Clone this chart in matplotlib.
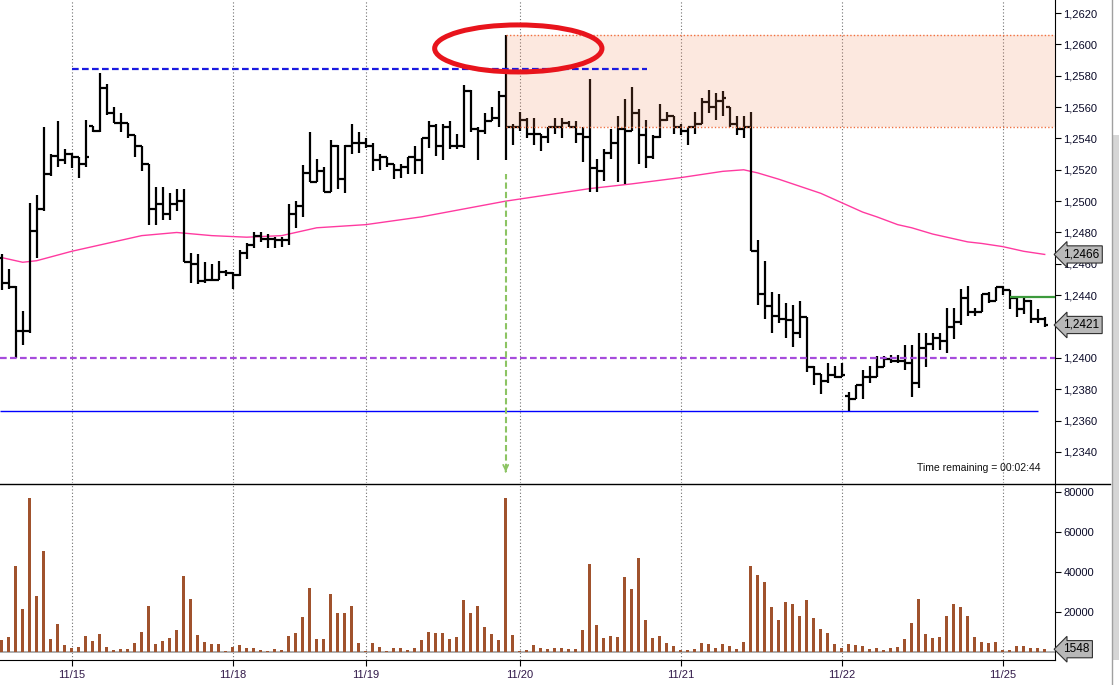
import numpy as np
import matplotlib
matplotlib.use('Agg')
import matplotlib.pyplot as plt
import matplotlib.transforms as mtransforms
from matplotlib.patches import Arc, Rectangle
from matplotlib.lines import Line2D
from matplotlib.ticker import FuncFormatter

plt.rcParams['font.family'] = ['Liberation Sans', 'DejaVu Sans']

# hourly OHLC bars, 11/14 .. 11/25
opens = [1.2464, 1.2448, 1.2445, 1.2417, 1.2417, 1.2481, 1.2495, 1.2517, 1.2529, 1.2526,
         1.2530, 1.2528, 1.2524, 1.2548, 1.2545, 1.2572, 1.2556, 1.2550, 1.2550, 1.2542,
         1.2535, 1.2524, 1.2495, 1.2498, 1.2492, 1.2498, 1.2500, 1.2461, 1.2460, 1.2449,
         1.2450, 1.2450, 1.2455, 1.2454, 1.2453, 1.2467, 1.2472, 1.2478, 1.2476, 1.2476,
         1.2475, 1.2475, 1.2492, 1.2497, 1.2518, 1.2512, 1.2519, 1.2506, 1.2535, 1.2514,
         1.2535, 1.2537, 1.2537, 1.2535, 1.2526, 1.2528, 1.2524, 1.2520, 1.2522, 1.2528,
         1.2526, 1.2540, 1.2548, 1.2535, 1.2547, 1.2535, 1.2535, 1.2570, 1.2546, 1.2545,
         1.2551, 1.2553, 1.2567, 1.2547, 1.2547, 1.2552, 1.2543, 1.2543, 1.2541, 1.2547,
         1.2547, 1.2550, 1.2547, 1.2543, 1.2541, 1.2521, 1.2519, 1.2531, 1.2537, 1.2546,
         1.2545, 1.2556, 1.2542, 1.2528, 1.2541, 1.2552, 1.2554, 1.2547, 1.2545, 1.2547,
         1.2549, 1.2563, 1.2560, 1.2564, 1.2560, 1.2549, 1.2546, 1.2547, 1.2468, 1.2441,
         1.2433, 1.2427, 1.2425, 1.2424, 1.2416, 1.2426, 1.2394, 1.2390, 1.2385, 1.2389,
         1.2388, 1.2376, 1.2374, 1.2383, 1.2388, 1.2388, 1.2394, 1.2399, 1.2398, 1.2398,
         1.2397, 1.2384, 1.2406, 1.2409, 1.2413, 1.2411, 1.2420, 1.2423, 1.2438, 1.2429,
         1.2429, 1.2441, 1.2436, 1.2445, 1.2443, 1.2438, 1.2431, 1.2436, 1.2425, 1.2425]
highs = [1.2466, 1.2457, 1.2446, 1.2430, 1.2499, 1.2504, 1.2547, 1.2530, 1.2551, 1.2533,
         1.2531, 1.2528, 1.2552, 1.2548, 1.2582, 1.2575, 1.2560, 1.2556, 1.2550, 1.2542,
         1.2535, 1.2524, 1.2509, 1.2509, 1.2505, 1.2508, 1.2508, 1.2467, 1.2466, 1.2461,
         1.2460, 1.2462, 1.2456, 1.2455, 1.2469, 1.2473, 1.2480, 1.2480, 1.2479, 1.2477,
         1.2477, 1.2498, 1.2500, 1.2523, 1.2544, 1.2527, 1.2522, 1.2539, 1.2536, 1.2536,
         1.2549, 1.2544, 1.2540, 1.2537, 1.2530, 1.2528, 1.2524, 1.2524, 1.2528, 1.2535,
         1.2540, 1.2551, 1.2549, 1.2549, 1.2551, 1.2543, 1.2574, 1.2571, 1.2547, 1.2556,
         1.2560, 1.2570, 1.2606, 1.2549, 1.2557, 1.2553, 1.2553, 1.2543, 1.2547, 1.2553,
         1.2553, 1.2551, 1.2551, 1.2547, 1.2578, 1.2527, 1.2533, 1.2546, 1.2554, 1.2565,
         1.2573, 1.2559, 1.2552, 1.2542, 1.2562, 1.2557, 1.2554, 1.2549, 1.2547, 1.2557,
         1.2566, 1.2571, 1.2569, 1.2570, 1.2560, 1.2554, 1.2554, 1.2557, 1.2475, 1.2462,
         1.2442, 1.2441, 1.2435, 1.2434, 1.2436, 1.2426, 1.2395, 1.2390, 1.2397, 1.2395,
         1.2397, 1.2378, 1.2383, 1.2392, 1.2395, 1.2401, 1.2401, 1.2402, 1.2402, 1.2408,
         1.2408, 1.2416, 1.2416, 1.2416, 1.2416, 1.2432, 1.2432, 1.2444, 1.2446, 1.2432,
         1.2441, 1.2442, 1.2445, 1.2446, 1.2443, 1.2438, 1.2438, 1.2437, 1.2431, 1.2426]
lows = [1.2443, 1.2444, 1.2400, 1.2408, 1.2416, 1.2464, 1.2494, 1.2516, 1.2522, 1.2524,
        1.2521, 1.2515, 1.2522, 1.2544, 1.2544, 1.2555, 1.2550, 1.2544, 1.2540, 1.2528,
        1.2519, 1.2485, 1.2485, 1.2488, 1.2488, 1.2494, 1.2461, 1.2448, 1.2447, 1.2448,
        1.2449, 1.2450, 1.2452, 1.2444, 1.2452, 1.2463, 1.2470, 1.2474, 1.2470, 1.2470,
        1.2471, 1.2472, 1.2483, 1.2490, 1.2512, 1.2512, 1.2506, 1.2506, 1.2508, 1.2505,
        1.2530, 1.2531, 1.2534, 1.2519, 1.2520, 1.2522, 1.2514, 1.2515, 1.2517, 1.2517,
        1.2517, 1.2534, 1.2529, 1.2526, 1.2533, 1.2533, 1.2534, 1.2544, 1.2526, 1.2543,
        1.2551, 1.2547, 1.2526, 1.2536, 1.2545, 1.2540, 1.2536, 1.2532, 1.2537, 1.2543,
        1.2540, 1.2547, 1.2537, 1.2525, 1.2506, 1.2506, 1.2513, 1.2527, 1.2512, 1.2511,
        1.2545, 1.2524, 1.2521, 1.2527, 1.2540, 1.2551, 1.2543, 1.2542, 1.2536, 1.2543,
        1.2549, 1.2556, 1.2552, 1.2554, 1.2547, 1.2542, 1.2540, 1.2468, 1.2434, 1.2425,
        1.2416, 1.2422, 1.2413, 1.2407, 1.2413, 1.2391, 1.2383, 1.2377, 1.2384, 1.2387,
        1.2388, 1.2366, 1.2374, 1.2374, 1.2384, 1.2388, 1.2394, 1.2397, 1.2397, 1.2392,
        1.2375, 1.2381, 1.2394, 1.2405, 1.2405, 1.2403, 1.2412, 1.2421, 1.2427, 1.2427,
        1.2429, 1.2435, 1.2436, 1.2440, 1.2431, 1.2426, 1.2428, 1.2422, 1.2422, 1.2420]
closes = [1.2448, 1.2445, 1.2417, 1.2417, 1.2481, 1.2495, 1.2517, 1.2529, 1.2526, 1.2530,
          1.2528, 1.2524, 1.2528, 1.2545, 1.2572, 1.2556, 1.2550, 1.2550, 1.2542, 1.2535,
          1.2524, 1.2495, 1.2498, 1.2492, 1.2498, 1.2500, 1.2461, 1.2460, 1.2449, 1.2450,
          1.2450, 1.2455, 1.2454, 1.2453, 1.2467, 1.2472, 1.2478, 1.2476, 1.2476, 1.2475,
          1.2475, 1.2492, 1.2497, 1.2518, 1.2512, 1.2519, 1.2506, 1.2535, 1.2514, 1.2535,
          1.2537, 1.2537, 1.2535, 1.2526, 1.2528, 1.2524, 1.2520, 1.2522, 1.2528, 1.2526,
          1.2540, 1.2548, 1.2535, 1.2547, 1.2535, 1.2535, 1.2570, 1.2546, 1.2545, 1.2551,
          1.2553, 1.2567, 1.2547, 1.2547, 1.2552, 1.2543, 1.2543, 1.2541, 1.2547, 1.2547,
          1.2550, 1.2547, 1.2543, 1.2541, 1.2521, 1.2519, 1.2531, 1.2537, 1.2546, 1.2545,
          1.2556, 1.2542, 1.2528, 1.2541, 1.2552, 1.2554, 1.2547, 1.2545, 1.2547, 1.2549,
          1.2563, 1.2560, 1.2564, 1.2566, 1.2549, 1.2546, 1.2547, 1.2468, 1.2441, 1.2433,
          1.2427, 1.2425, 1.2424, 1.2416, 1.2426, 1.2394, 1.2390, 1.2385, 1.2389, 1.2388,
          1.2389, 1.2374, 1.2383, 1.2388, 1.2388, 1.2394, 1.2399, 1.2398, 1.2398, 1.2397,
          1.2384, 1.2406, 1.2409, 1.2413, 1.2411, 1.2420, 1.2423, 1.2438, 1.2429, 1.2429,
          1.2441, 1.2436, 1.2445, 1.2443, 1.2438, 1.2431, 1.2436, 1.2425, 1.2425, 1.2421]
volumes = [6150, 7800, 43000, 21600, 77000, 28100, 50500, 6650, 14100, 3650,
           2150, 2650, 8150, 5650, 9150, 2650, 1150, 1650, 1650, 4650,
           10100, 23100, 4150, 5650, 7150, 11100, 38100, 26600, 8650, 5150,
           4150, 4150, 650, 2800, 3650, 2150, 2150, 1150, 650, 1650,
           1150, 8150, 9650, 17600, 32100, 6650, 6650, 29100, 19600, 19600,
           23100, 4650, 650, 4650, 2650, 650, 2150, 2150, 1150, 2150,
           6150, 10100, 9650, 9650, 6650, 7650, 26100, 19600, 23100, 12600,
           9150, 6150, 77000, 8650, 650, 1150, 3650, 2150, 1650, 2150,
           2150, 1650, 1650, 11100, 44000, 13600, 7150, 8150, 7650, 37600,
           31600, 47000, 16100, 7150, 8150, 4650, 3150, 1150, 1150, 1650,
           4650, 4150, 2150, 4150, 3150, 1650, 5150, 43000, 38600, 35100,
           22600, 16100, 25100, 24100, 18100, 26100, 17100, 11600, 9650, 4150,
           2150, 4150, 3650, 3150, 1650, 2150, 1150, 2150, 2650, 6650,
           14600, 26600, 9150, 7150, 7650, 18100, 24100, 22600, 18100, 7650,
           5150, 4650, 5150, 1150, 1150, 3150, 3150, 2150, 2150, 1548]

# moving average read at some bars
ma_idx = [0, 3, 5, 10, 15, 20, 25, 30, 35, 40, 45, 52, 60, 66, 72, 78, 84, 90,
          97, 103, 106, 108, 111, 115, 117, 120, 123, 125, 128, 130, 133, 135,
          138, 140, 143, 146, 149]
ma_val = [1.2464, 1.2461, 1.2462, 1.2468, 1.2473, 1.2478, 1.2480, 1.2478, 1.2477,
          1.2478, 1.2483, 1.2485, 1.2490, 1.2495, 1.2500, 1.2504, 1.2508, 1.2511,
          1.2515, 1.2519, 1.2520, 1.2518, 1.2514, 1.2508, 1.2505, 1.2499, 1.2493,
          1.2490, 1.2485, 1.2483, 1.2479, 1.2477, 1.2474, 1.2473, 1.2471, 1.2468,
          1.2466]

day_idx = [10, 33, 52, 74, 97, 120, 143]
day_labels = ['11/15', '11/18', '11/19', '11/20', '11/21', '11/22', '11/25']

zone_top, zone_bottom, zone_start = 1.2606, 1.2547, 72
high_level, high_from, high_to = 1.2584, 10, 92.2
mid_level = 1.2400
low_level, low_to = 1.2366, 148
green_level, green_from = 1.2439, 144
arrow_bar, arrow_from, arrow_to = 72, 1.2517, 1.23255
ring_center, ring_w, ring_h = (73.8, 1.25974), 23.9, 0.0030
last_ma, last_close, last_vol = 1.2466, 1.2421, 1548

W, H = 1119, 685
fig = plt.figure(figsize=(W / 100, H / 100), dpi=100)


def px_axes(l, t, r, b):
    return fig.add_axes([l / W, 1 - b / H, (r - l) / W, (b - t) / H])


ax = px_axes(0, 0, 1055, 483)
axv = px_axes(0, 484, 1055, 660)
xlim = (-0.243, 150.47)
x = np.arange(len(closes))

# ---- price panel
ax.set_xlim(*xlim)
ax.set_ylim(1.23202, 1.26283)
for d in day_idx:
    ax.axvline(d, color='#707070', lw=0.8, ls=(0, (1, 2)), zorder=0)
    axv.axvline(d, color='#707070', lw=0.8, ls=(0, (1, 2)), zorder=0)

ax.vlines(x, lows, highs, color='black', lw=1.6, zorder=3)
ax.hlines(opens, x - 0.5, x, color='black', lw=1.6, zorder=3)
ax.hlines(closes, x, x + 0.5, color='black', lw=1.6, zorder=3)

ax.plot(ma_idx, ma_val, color='#ff3aa0', lw=1.0, zorder=2)

ax.add_patch(Rectangle((zone_start, zone_bottom), xlim[1] - zone_start, zone_top - zone_bottom,
                       fc='#f08050', alpha=0.18, ec='none', zorder=4))
ax.hlines([zone_top, zone_bottom], zone_start, xlim[1], color='#f07040', lw=1.0,
          ls=(0, (1, 1.5)), zorder=4)

ax.hlines(high_level, high_from, high_to, color='#1a1ae0', lw=1.6, ls=(0, (3, 1.5)), zorder=5)
ax.hlines(mid_level, xlim[0], xlim[1], color='#a64bdc', lw=1.6, ls=(0, (3, 1.5)), zorder=5)
ax.hlines(low_level, xlim[0], low_to, color='#0000ff', lw=1.0, zorder=5)
ax.hlines(green_level, green_from, xlim[1], color='#3c9a3c', lw=1.6, zorder=5)

ax.vlines(arrow_bar, arrow_to + 0.0003, arrow_from, color='#8cc463', lw=1.5,
          ls=(0, (3, 1.5)), zorder=5)
ax.annotate('', xy=(arrow_bar, arrow_to), xytext=(arrow_bar, arrow_to + 0.0004),
            arrowprops=dict(arrowstyle='->', color='#8cc463', lw=1.3, mutation_scale=9))

ax.add_patch(Arc(ring_center, ring_w, ring_h, theta1=118, theta2=468,
                 color='#e8141c', lw=3.6, zorder=6))

ax.text(0.9858, 0.031, 'Time remaining = 00:02:44', transform=ax.transAxes,
        ha='right', va='center', fontsize=7.5, color='#111111')

ax.yaxis.tick_right()
price_ticks = np.arange(1.2340, 1.26201, 0.002)
ax.set_yticks(price_ticks)
# the 1,2420 label sits under the last-price marker, as in the original
ax.set_yticklabels(['' if abs(v - 1.2420) < 1e-6 else f'{v:.4f}'.replace('.', ',')
                    for v in price_ticks])
ax.tick_params(axis='y', direction='out', length=4, width=0.8, labelsize=8, pad=2,
               labelcolor='#0a0a28')
ax.set_xticks([])
for s in ('top', 'left', 'bottom'):
    ax.spines[s].set_visible(False)

trans = mtransforms.blended_transform_factory(ax.transAxes, ax.transData)
for val in (last_ma, last_close):
    ax.text(1.008, val, f'{val:.4f}'.replace('.', ','), transform=trans, ha='left',
            va='center', fontsize=8.5, color='black', zorder=10, clip_on=False,
            bbox=dict(boxstyle='larrow,pad=0.22', fc='#b8b8b8', ec='#303030', lw=0.8))

# ---- volume panel
axv.set_xlim(*xlim)
axv.set_ylim(-3840, 83930)
axv.bar(x, volumes, width=0.4, color='#a0522d', zorder=3)
axv.axhline(0, color='#a8a8a8', lw=1.3, zorder=2)
axv.yaxis.tick_right()
axv.set_yticks([20000, 40000, 60000, 80000])
axv.tick_params(axis='y', direction='out', length=4, width=0.8, labelsize=8, pad=2,
                labelcolor='#0a0a28')
axv.set_xticks(day_idx)
axv.set_xticklabels(day_labels)
axv.tick_params(axis='x', direction='out', length=4, width=0.8, labelsize=8, pad=3,
                labelcolor='#301848')
for s in ('top', 'left'):
    axv.spines[s].set_visible(False)
trans_v = mtransforms.blended_transform_factory(axv.transAxes, axv.transData)
axv.text(1.008, last_vol, str(last_vol), transform=trans_v, ha='left', va='center',
         fontsize=8.5, color='black', zorder=10, clip_on=False,
         bbox=dict(boxstyle='larrow,pad=0.22', fc='#b8b8b8', ec='#303030', lw=0.8))

# separator and window edge
fig.add_artist(Line2D([0, 1110 / W], [1 - 483.5 / H] * 2, color='black', lw=1.0))
fig.add_artist(Line2D([1112 / W] * 2, [0, 1], color='#a0a0a0', lw=1.0))
fig.add_artist(Rectangle((1112.5 / W, 1 - 660 / H), 6.5 / W, (660 - 135) / H,
                         transform=fig.transFigure, fc='#d6d6d6', ec='none'))

fig.savefig('out.png', dpi=100)
